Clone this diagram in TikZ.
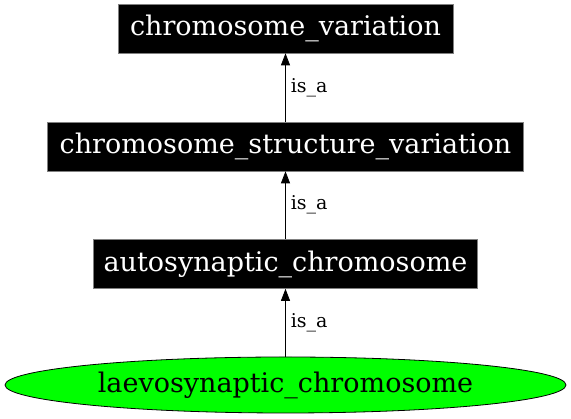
\documentclass[tikz,border=0pt]{standalone}
\usepackage{fontspec}
\setmainfont{DejaVu Serif}
\usetikzlibrary{arrows.meta,shapes.geometric}
\begin{document}
\begin{tikzpicture}[x=1pt,y=1pt,
    term/.style={fill=black,draw=gray,line width=0.6pt,text=white,inner sep=0,
        minimum height=49pt,font=\fontsize{27}{30}\selectfont},
    leaf/.style={ellipse,fill=green,draw=black,line width=0.8pt,inner sep=0,
        minimum width=561pt,minimum height=56pt,font=\fontsize{27}{30}\selectfont},
    isa/.style={-{Triangle[length=12pt,width=9pt]},line width=0.8pt},
    rel/.style={midway,right=4pt,inner sep=1pt,font=\fontsize{19}{20}\selectfont}]
    \useasboundingbox (0,0) rectangle (571,419);
    \node[term,minimum width=335pt] (variation) at (285.5,390.5) {chromosome\_variation};
    \node[term,minimum width=476pt] (structure) at (285.5,272.5) {chromosome\_structure\_variation};
    \node[term,minimum width=384pt] (autosyn) at (285.5,155) {autosynaptic\_chromosome};
    \node[leaf] (laevosyn) at (285.5,34) {laevosynaptic\_chromosome};
    \draw[isa] (structure) -- node[rel]{is\_a} (variation);
    \draw[isa] (autosyn) -- node[rel]{is\_a} (structure);
    \draw[isa] (laevosyn) -- node[rel]{is\_a} (autosyn);
\end{tikzpicture}
\end{document}
